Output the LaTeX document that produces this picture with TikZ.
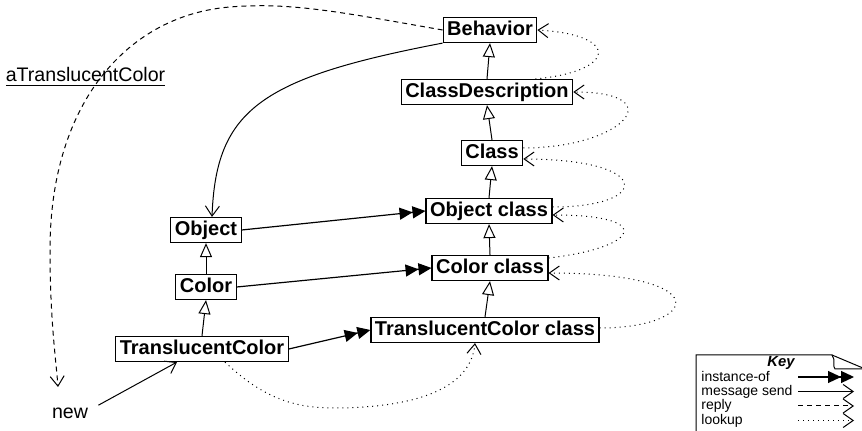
\documentclass[tikz,border=0pt]{standalone}
\usepackage{fontspec}
\setmainfont{Liberation Sans}
\usetikzlibrary{arrows.meta,calc}

\begin{document}
\begin{tikzpicture}[x=0.5pt,y=-0.5pt,
  cls/.style={draw,line width=0.6pt,inner xsep=2pt,inner ysep=1.6pt,
    text height=7.3pt,text depth=2pt,font=\fontsize{10}{12}\selectfont\bfseries},
  plain/.style={inner sep=1pt,font=\fontsize{9.8}{12}\selectfont},
  keytext/.style={anchor=west,inner sep=0pt,font=\fontsize{7}{8}\selectfont},
  inherit/.style={line width=0.5pt,-{Triangle[open,length=7pt,width=6pt]}},
  instof/.style={line width=0.6pt,-{Triangle[length=6.5pt,width=6pt]Triangle[length=6.5pt,width=6pt]}},
  send/.style={line width=0.5pt,-{Straight Barb[length=5pt,width=7pt]}},
  reply/.style={send,dash pattern=on 2.5pt off 2pt},
  lookup/.style={send,dash pattern=on 0.5pt off 2pt}]
\useasboundingbox (0,0) rectangle (862,431);
% metaclass side
\node[cls] (behavior) at (490,30) {Behavior};
\node[cls] (classdesc) at (487,92) {ClassDescription};
\node[cls] (class) at (492,153) {Class};
\node[cls] (objclass) at (489,211) {Object class};
\node[cls] (colclass) at (490,268) {Color class};
\node[cls] (tcclass) at (485,330) {TranslucentColor class};
% class side
\node[cls] (object) at (206,230) {Object};
\node[cls] (color) at (206,287) {Color};
\node[cls] (tcolor) at (202,349) {TranslucentColor};
%
\node[plain] (inst) at (85.5,77) {\underline{aTranslucentColor}};
\node[plain] (new) at (70,413) {new};
%
\draw[inherit] (tcolor.north) -- (color.south);
\draw[inherit] (color.north) -- (object.south);
\draw[inherit] (tcclass.north) -- (colclass.south);
\draw[inherit] (colclass.north) -- (objclass.south);
\draw[inherit] (objclass.north) -- (class.south);
\draw[inherit] (class.north) -- (classdesc.south);
\draw[inherit] (classdesc.north) -- (behavior.south);
%
\draw[instof] (object.east) -- (objclass.west);
\draw[instof] (color.east) -- (colclass.west);
\draw[instof] (tcolor.east) -- (tcclass.west);
%
\draw[send] ([xshift=4pt]new.north east) -- ([xshift=-12.5pt]tcolor.south);
\draw[send] (behavior.south west) .. controls (260,78) and (216,110) .. ([xshift=3pt]object.north);
\draw[reply] (behavior.west) .. controls (340,12) and (290,2) .. (230,7)
  .. controls (130,15) and (50,100) .. (50,250)
  .. controls (50,320) and (56,360) .. (58,387);
%
\draw[lookup] ([xshift=11.5pt]tcolor.south) .. controls (260,395) and (290,408) .. (333,408)
  .. controls (400,408) and (470,395) .. ([xshift=-5pt]tcclass.south);
\draw[lookup] ([yshift=1pt]tcclass.east) .. controls +(100,0) and +(170,0) .. ([yshift=-2.5pt]colclass.east);
\draw[lookup] ([yshift=5pt]colclass.east) .. controls +(90,-10) and +(105,0) .. ([yshift=-2pt]objclass.east);
\draw[lookup] ([yshift=2pt]objclass.east) .. controls +(100,0) and +(130,0) .. ([yshift=-3pt]class.east);
\draw[lookup] ([yshift=2.5pt]class.east) .. controls +(100,0) and +(100,0) .. (classdesc.east);
\draw[lookup] ([xshift=-19pt]classdesc.north east) .. controls +(80,-7) and +(85,5) .. (behavior.east);
% key
\draw[line width=0.5pt] (696,440) -- (696,355) -- (832,355)
  .. controls (836,360) and (832,366) .. (835,369) -- (870,369);
\draw[line width=0.5pt] (832,355) -- (870,371);
\node[font=\fontsize{7.4}{8}\selectfont\bfseries\itshape] (keyhead) at (781,363) {Key};
\node[keytext] (kinst) at (701,377) {instance-of};
\node[keytext] (ksend) at (701,391.5) {message send};
\node[keytext] (kreply) at (701,406) {reply};
\node[keytext] (klookup) at (701,420.5) {lookup};
\coordinate (kinsta) at (798,377);
\coordinate (kinstb) at (854,377);
\coordinate (ksenda) at (798,391.5);
\coordinate (ksendb) at (854,391.5);
\coordinate (kreplya) at (798,406);
\coordinate (kreplyb) at (854,406);
\coordinate (klookupa) at (798,420.5);
\coordinate (klookupb) at (854,420.5);
\draw[instof] (kinsta) -- (kinstb);
\draw[send] (ksenda) -- (ksendb);
\draw[reply] (kreplya) -- (kreplyb);
\draw[lookup] (klookupa) -- (klookupb);
\end{tikzpicture}
\end{document}
